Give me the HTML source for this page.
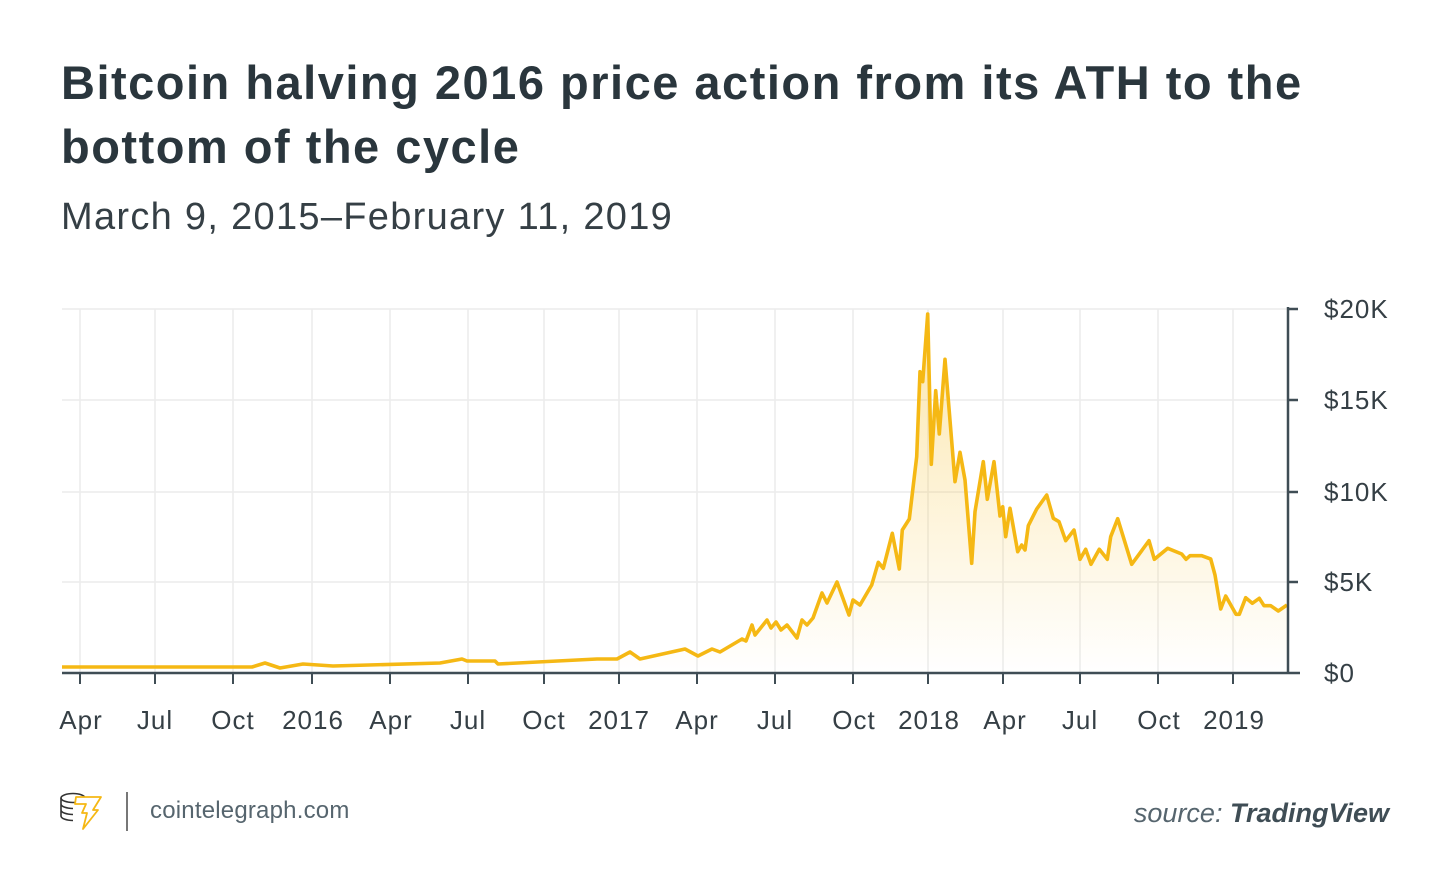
<!DOCTYPE html>
<html><head><meta charset="utf-8"><style>
html,body{margin:0;padding:0;background:#fff;}
body{width:1450px;height:892px;position:relative;overflow:hidden;font-family:"Liberation Sans",sans-serif;}
.t{position:absolute;left:61px;top:51px;font-size:47px;font-weight:bold;color:#2a363d;line-height:64px;letter-spacing:1.5px;}
.s{position:absolute;left:61px;top:196px;font-size:38px;color:#353f45;letter-spacing:1.3px;}
</style></head><body>
<div class="t">Bitcoin halving 2016 price action from its ATH to the<br>bottom of the cycle</div>
<div class="s">March 9, 2015–February 11, 2019</div>
<svg width="1450" height="892" style="position:absolute;left:0;top:0">
<defs><linearGradient id="g" x1="0" y1="0" x2="0" y2="1"><stop offset="0" stop-color="#f5b814" stop-opacity="0.35"/><stop offset="1" stop-color="#f5b814" stop-opacity="0"/></linearGradient></defs>
<g stroke="#ececec" stroke-width="1.5">
<line x1="62" y1="309" x2="1288" y2="309"/><line x1="62" y1="400" x2="1288" y2="400"/><line x1="62" y1="492" x2="1288" y2="492"/><line x1="62" y1="582" x2="1288" y2="582"/>
<line x1="80" y1="309" x2="80" y2="673"/><line x1="155" y1="309" x2="155" y2="673"/><line x1="233" y1="309" x2="233" y2="673"/><line x1="312" y1="309" x2="312" y2="673"/><line x1="390" y1="309" x2="390" y2="673"/><line x1="468" y1="309" x2="468" y2="673"/><line x1="544" y1="309" x2="544" y2="673"/><line x1="619" y1="309" x2="619" y2="673"/><line x1="697" y1="309" x2="697" y2="673"/><line x1="775" y1="309" x2="775" y2="673"/><line x1="853" y1="309" x2="853" y2="673"/><line x1="928" y1="309" x2="928" y2="673"/><line x1="1003" y1="309" x2="1003" y2="673"/><line x1="1080" y1="309" x2="1080" y2="673"/><line x1="1158" y1="309" x2="1158" y2="673"/><line x1="1233" y1="309" x2="1233" y2="673"/>
</g>
<path fill="url(#g)" d="M62,673 L62,667 L252,667 L265,663 L280,668 L303,664 L333,666 L440,663 L462,659 L467,661 L495,661 L498,664 L597,659 L617,659 L630,652 L640,659 L685,649 L698,656 L712,649 L720,652 L742,639 L746,641 L752,625 L755,635 L767,620 L771,628 L776,622 L781,630 L787,625 L797,638 L802,620 L807,625 L813,618 L822,593 L827,603 L837,582 L849,615 L853,600 L860,605 L871.7,585 L878.3,562.3 L883.3,568.3 L892.3,533.3 L899.3,569 L902.3,530 L909.3,519 L916.7,456.7 L920,371.7 L922.7,381.7 L927.7,314 L931.3,464.3 L935.7,390.7 L939.3,434 L945,359.3 L955,481.7 L960,452.3 L965,480 L971.7,563.3 L975,511.7 L983.3,461.7 L987.3,499.3 L994,461.7 L1000,516 L1002.7,506.7 L1005.7,536.7 L1010,508.3 L1017.7,551.7 L1021.7,545 L1025,550 L1028.3,525.7 L1036.7,509 L1046.7,495 L1053.3,518.3 L1059,521.7 L1065.7,540.7 L1074,530 L1080,559.3 L1085.7,549.3 L1091,564.3 L1099.3,549.3 L1107.3,559.3 L1110.7,536.7 L1117.7,518.7 L1131.7,564.3 L1149,540.7 L1154.3,559.3 L1167.7,548.3 L1181.7,554 L1186,559.3 L1190,555.7 L1201.7,555.7 L1210.7,559 L1215,575 L1220.7,609 L1225.7,596 L1236,614.3 L1239.3,614.3 L1245.7,597.7 L1252.3,603.3 L1259.3,598.3 L1264,605.7 L1270.7,605.7 L1278.3,611 L1287,605 L1287,673 Z"/>
<polyline fill="none" stroke="#f5b814" stroke-width="3.6" stroke-linejoin="round" points="62,667 252,667 265,663 280,668 303,664 333,666 440,663 462,659 467,661 495,661 498,664 597,659 617,659 630,652 640,659 685,649 698,656 712,649 720,652 742,639 746,641 752,625 755,635 767,620 771,628 776,622 781,630 787,625 797,638 802,620 807,625 813,618 822,593 827,603 837,582 849,615 853,600 860,605 871.7,585 878.3,562.3 883.3,568.3 892.3,533.3 899.3,569 902.3,530 909.3,519 916.7,456.7 920,371.7 922.7,381.7 927.7,314 931.3,464.3 935.7,390.7 939.3,434 945,359.3 955,481.7 960,452.3 965,480 971.7,563.3 975,511.7 983.3,461.7 987.3,499.3 994,461.7 1000,516 1002.7,506.7 1005.7,536.7 1010,508.3 1017.7,551.7 1021.7,545 1025,550 1028.3,525.7 1036.7,509 1046.7,495 1053.3,518.3 1059,521.7 1065.7,540.7 1074,530 1080,559.3 1085.7,549.3 1091,564.3 1099.3,549.3 1107.3,559.3 1110.7,536.7 1117.7,518.7 1131.7,564.3 1149,540.7 1154.3,559.3 1167.7,548.3 1181.7,554 1186,559.3 1190,555.7 1201.7,555.7 1210.7,559 1215,575 1220.7,609 1225.7,596 1236,614.3 1239.3,614.3 1245.7,597.7 1252.3,603.3 1259.3,598.3 1264,605.7 1270.7,605.7 1278.3,611 1287,605"/>
<g stroke="#3f4d55" stroke-width="2.5">
<line x1="62" y1="673" x2="1300" y2="673"/><line x1="1288" y1="307" x2="1288" y2="673"/>
<line x1="1288" y1="309" x2="1298" y2="309"/><line x1="1288" y1="400" x2="1298" y2="400"/><line x1="1288" y1="492" x2="1298" y2="492"/><line x1="1288" y1="582" x2="1298" y2="582"/>
<g stroke-width="2"><line x1="80" y1="673" x2="80" y2="684"/><line x1="155" y1="673" x2="155" y2="684"/><line x1="233" y1="673" x2="233" y2="684"/><line x1="312" y1="673" x2="312" y2="684"/><line x1="390" y1="673" x2="390" y2="684"/><line x1="468" y1="673" x2="468" y2="684"/><line x1="544" y1="673" x2="544" y2="684"/><line x1="619" y1="673" x2="619" y2="684"/><line x1="697" y1="673" x2="697" y2="684"/><line x1="775" y1="673" x2="775" y2="684"/><line x1="853" y1="673" x2="853" y2="684"/><line x1="928" y1="673" x2="928" y2="684"/><line x1="1003" y1="673" x2="1003" y2="684"/><line x1="1080" y1="673" x2="1080" y2="684"/><line x1="1158" y1="673" x2="1158" y2="684"/><line x1="1233" y1="673" x2="1233" y2="684"/></g>
</g>
<g font-family="Liberation Sans, sans-serif" font-size="26" fill="#353f45" letter-spacing="1">
<text x="1324" y="318">$20K</text><text x="1324" y="409">$15K</text><text x="1324" y="501">$10K</text><text x="1324" y="591">$5K</text><text x="1324" y="682">$0</text>
<g text-anchor="middle"><text x="81" y="729">Apr</text><text x="155" y="729">Jul</text><text x="233" y="729">Oct</text><text x="313" y="729">2016</text><text x="391" y="729">Apr</text><text x="468" y="729">Jul</text><text x="544" y="729">Oct</text><text x="619" y="729">2017</text><text x="697" y="729">Apr</text><text x="775" y="729">Jul</text><text x="854" y="729">Oct</text><text x="929" y="729">2018</text><text x="1005" y="729">Apr</text><text x="1080" y="729">Jul</text><text x="1159" y="729">Oct</text><text x="1234" y="729">2019</text></g>
</g>
<g fill="none" stroke="#333" stroke-width="1.6">
<ellipse cx="73" cy="798" rx="12" ry="4.5"/><path d="M61,798 v18 M85,798 v4 M61,804 a12,4.5 0 0 0 12,4.5 M61,810 a12,4.5 0 0 0 12,4.5 M61,816 a12,4.5 0 0 0 12,4.5"/>
</g>
<path d="M76,797 L101,797 L93,810 L98,810 L83,829 L87,813 L82,813 L86,804 L75,804 Z" fill="#fff" stroke="#f5b814" stroke-width="1.8" stroke-linejoin="round"/>
<line x1="127" y1="792" x2="127" y2="831" stroke="#777" stroke-width="2"/>
<text x="150" y="818" font-family="Liberation Sans, sans-serif" font-size="24" letter-spacing="0.2" fill="#56656e">cointelegraph.com</text>
<text x="1389" y="822" text-anchor="end" font-family="Liberation Sans, sans-serif" font-size="27" font-style="italic" fill="#56656e">source: <tspan font-weight="bold" fill="#3f4d55">TradingView</tspan></text>
</svg>
</body></html>
